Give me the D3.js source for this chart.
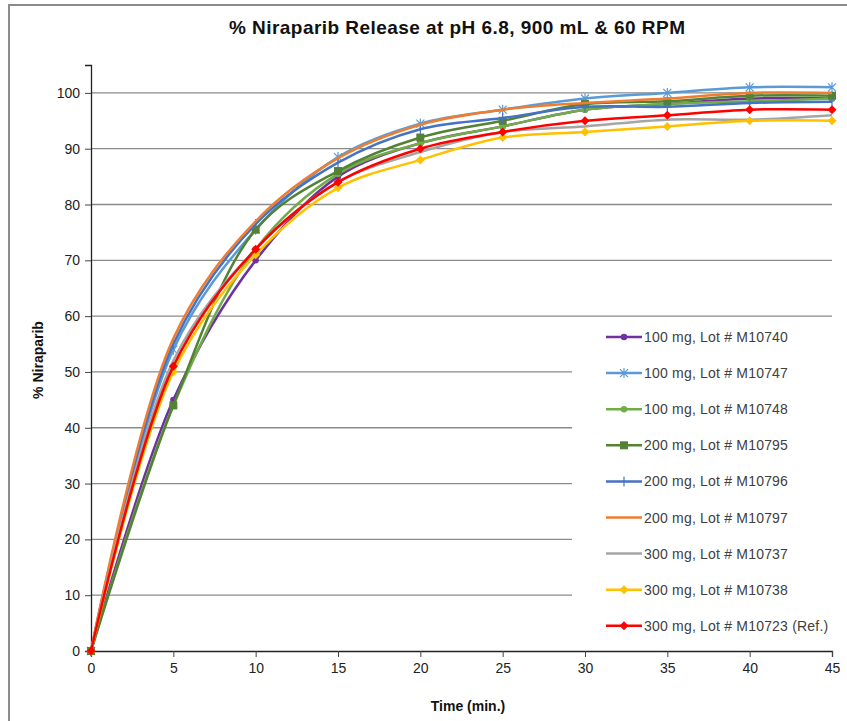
<!DOCTYPE html>
<html>
<head>
<meta charset="utf-8">
<script src="https://cdn.jsdelivr.net/npm/d3@7"></script>
<style>
  body { margin: 0; background: #fff; }
  text { font-family: "Liberation Sans", Arial, sans-serif; }
</style>
</head>
<body>
<div id="chart"></div>
<script>
"use strict"
// Time points (min.)
var times = [0, 5, 10, 15, 20, 25, 30, 35, 40, 45];

// % released
var lot10740 = [0, 45, 70, 85, 91, 94, 97, 98, 99, 99];
var lot10747 = [0, 54, 75.5, 88.5, 94.5, 97, 99, 100, 101, 101];
var lot10748 = [0, 44, 72, 85.5, 91, 94, 97, 98, 98.5, 99];
var lot10795 = [0, 44, 75.5, 86, 92, 95, 98, 98.5, 99.5, 99.5];
var lot10796 = [0, 55, 76.5, 87.5, 93.5, 95.5, 97.5, 97.5, 98.2, 98.4];
var lot10797 = [0, 56, 77, 88.3, 94.3, 97, 98.2, 99, 100, 100];
var lot10737 = [0, 52, 72, 84, 89.4, 93, 94, 95.2, 95.2, 96];
var lot10738 = [0, 50, 71, 83, 88, 92, 93, 94, 95, 95];
var lot10723 = [0, 51, 72, 84, 90, 93, 95, 96, 97, 97];

var seriesNames = [
  "100 mg, Lot # M10740", "100 mg, Lot # M10747", "100 mg, Lot # M10748",
  "200 mg, Lot # M10795", "200 mg, Lot # M10796", "200 mg, Lot # M10797",
  "300 mg, Lot # M10737", "300 mg, Lot # M10738", "300 mg, Lot # M10723 (Ref.)"
];
var seriesValues = [lot10740, lot10747, lot10748, lot10795, lot10796, lot10797, lot10737, lot10738, lot10723];
var seriesColors = ["#7030a0", "#5b9bd5", "#70ad47", "#548235", "#4472c4", "#ed7d31", "#a5a5a5", "#ffc000", "#ff0000"];
var seriesMarkers = ["circle", "star", "circle", "square", "plus", "none", "none", "diamond", "diamond"];

var yTicks = [0, 10, 20, 30, 40, 50, 60, 70, 80, 90, 100];
var xTicks = [0, 5, 10, 15, 20, 25, 30, 35, 40, 45];

var width = 847, height = 721;
var margin = {top: 65, right: 15, bottom: 70, left: 91};
var drawWidth = width - margin.left - margin.right;   // 741
var drawHeight = height - margin.top - margin.bottom; // 586

var svg = d3.select("#chart").append("svg")
  .attr("width", width)
  .attr("height", height);

// outer frame (only left and top visible)
svg.append("rect")
  .attr("x", 9).attr("y", 5)
  .attr("width", width + 20).attr("height", height + 20)
  .attr("fill", "none").attr("stroke", "#8c8c8c").attr("stroke-width", 2);

svg.append("text")
  .attr("x", 457).attr("y", 34)
  .attr("text-anchor", "middle")
  .attr("textLength", 456).attr("lengthAdjust", "spacing")
  .style("font-size", "19px").style("font-weight", "bold")
  .attr("fill", "#111")
  .text("% Niraparib Release at pH 6.8, 900 mL & 60 RPM");

var xScale = d3.scaleLinear().domain([0, 45]).range([0, drawWidth]);
var yScale = d3.scaleLinear().domain([0, 105]).range([drawHeight, 0]);

var g = svg.append("g")
  .attr("transform", "translate(" + margin.left + "," + margin.top + ")");

// gridlines
g.append("g").selectAll("line")
  .data(yTicks.filter(function(d) { return d > 0; }))
  .enter().append("line")
  .attr("x1", 0).attr("x2", drawWidth)
  .attr("y1", function(d) { return yScale(d); })
  .attr("y2", function(d) { return yScale(d); })
  .attr("stroke", "#8a8a8a").attr("stroke-width", 1.3);

// legend box covers the gridlines under it
var legendX = 572 - margin.left, legendY = 323 - margin.top;
g.append("rect")
  .attr("x", legendX).attr("y", legendY)
  .attr("width", 270).attr("height", 322)
  .attr("fill", "#fff");

// axes
var yAxis = d3.axisLeft(yScale).tickValues(yTicks).tickSize(6).tickPadding(5);
var xAxis = d3.axisBottom(xScale).tickValues(xTicks).tickSize(6).tickPadding(6);

var gy = g.append("g").call(yAxis);
var gx = g.append("g").attr("transform", "translate(0," + drawHeight + ")").call(xAxis);
[gx, gy].forEach(function(a) {
  a.select(".domain").attr("stroke", "#222").attr("stroke-width", 1.3);
  a.selectAll(".tick line").attr("stroke", "#444");
  a.selectAll(".tick text")
    .style("font-family", "'Liberation Sans', Arial, sans-serif")
    .style("font-size", "14px").attr("fill", "#222");
});

svg.append("text")
  .attr("x", 468).attr("y", 711)
  .attr("text-anchor", "middle")
  .style("font-size", "14px").style("font-weight", "bold").attr("fill", "#111")
  .text("Time (min.)");

svg.append("text")
  .attr("transform", "translate(43,360) rotate(-90)")
  .attr("text-anchor", "middle")
  .style("font-size", "14px").style("font-weight", "bold").attr("fill", "#111")
  .text("% Niraparib");

var line = d3.line()
  .x(function(d) { return xScale(d[0]); })
  .y(function(d) { return yScale(d[1]); })
  .curve(d3.curveCatmullRom.alpha(0.5));

function drawMarker(sel, type, color) {
  if (type === "circle") {
    sel.append("circle").attr("r", 3.2).attr("fill", color);
  } else if (type === "square") {
    sel.append("rect").attr("x", -4).attr("y", -4).attr("width", 8).attr("height", 8).attr("fill", color);
  } else if (type === "diamond") {
    sel.append("path").attr("d", "M0,-4.5L4.5,0L0,4.5L-4.5,0Z").attr("fill", color);
  } else if (type === "star") {
    sel.append("path").attr("d", "M-4,-4L4,4M-4,4L4,-4M0,-5L0,5")
      .attr("stroke", color).attr("stroke-width", 1.2).attr("fill", "none");
  } else if (type === "plus") {
    sel.append("path").attr("d", "M0,-5L0,5")
      .attr("stroke", color).attr("stroke-width", 1.2).attr("fill", "none");
  }
}

seriesValues.forEach(function(vals, i) {
  var pts = times.map(function(t, j) { return [t, vals[j]]; });
  g.append("path")
    .datum(pts)
    .attr("fill", "none")
    .attr("stroke", seriesColors[i])
    .attr("stroke-width", 2.5)
    .attr("d", line);
  pts.forEach(function(p) {
    var m = g.append("g").attr("transform", "translate(" + xScale(p[0]) + "," + yScale(p[1]) + ")");
    drawMarker(m, seriesMarkers[i], seriesColors[i]);
  });
});

// legend
var legend = g.append("g").attr("transform", "translate(" + (606 - margin.left) + "," + (337 - margin.top) + ")");
seriesNames.forEach(function(name, i) {
  var row = legend.append("g").attr("transform", "translate(0," + (i * 36.1) + ")");
  row.append("line").attr("x1", 0).attr("x2", 36).attr("y1", 0).attr("y2", 0)
    .attr("stroke", seriesColors[i]).attr("stroke-width", 2.5);
  var m = row.append("g").attr("transform", "translate(18,0)");
  drawMarker(m, seriesMarkers[i], seriesColors[i]);
  row.append("text").attr("x", 38).attr("y", 5)
    .style("font-size", "14px").style("letter-spacing", "0.2px").attr("fill", "#404040")
    .text(name);
});
</script>
</body>
</html>
